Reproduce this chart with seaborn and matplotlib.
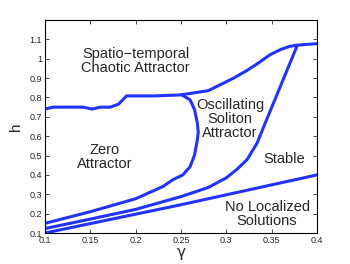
import matplotlib
matplotlib.use("Agg")
import matplotlib.pyplot as plt
import seaborn as sns
import pandas as pd

# Upper boundary (chaotic attractor)
upper_g = [0.100, 0.109, 0.142, 0.152, 0.161, 0.172, 0.181, 0.190, 0.220, 0.249, 0.280, 0.293, 0.308, 0.323, 0.336, 0.348, 0.360, 0.370, 0.378, 0.400]
upper_h = [0.740, 0.750, 0.750, 0.740, 0.750, 0.750, 0.765, 0.808, 0.808, 0.813, 0.835, 0.865, 0.900, 0.940, 0.980, 1.020, 1.048, 1.064, 1.070, 1.078]

# Oscillating soliton / zero attractor boundary
bulge_g = [0.251, 0.260, 0.265, 0.268, 0.269, 0.268, 0.265, 0.260, 0.252, 0.241, 0.230, 0.200, 0.150, 0.100]
bulge_h = [0.813, 0.788, 0.736, 0.669, 0.620, 0.581, 0.504, 0.442, 0.400, 0.375, 0.340, 0.277, 0.210, 0.150]

# Stable boundary
mid_g = [0.100, 0.150, 0.200, 0.250, 0.280, 0.300, 0.312, 0.323, 0.334, 0.340, 0.378]
mid_h = [0.123, 0.172, 0.222, 0.288, 0.335, 0.385, 0.430, 0.480, 0.565, 0.635, 1.066]

# No localized solutions boundary
low_g = [0.100, 0.250, 0.400]
low_h = [0.100, 0.246, 0.400]

labels = [
    ("Spatio\u2212temporal\nChaotic Attractor", 0.200, 0.990),
    ("Oscillating\nSoliton\nAttractor", 0.304, 0.688),
    ("Zero\nAttractor", 0.166, 0.490),
    ("Stable", 0.364, 0.483),
    ("No Localized\nSolutions", 0.345, 0.197),
]

xticks = [0.1, 0.15, 0.2, 0.25, 0.3, 0.35, 0.4]
xtick_labels = ["0.1", "0.15", "0.2", "0.25", "0.3", "0.35", "0.4"]
yticks = [0.1, 0.2, 0.3, 0.4, 0.5, 0.6, 0.7, 0.8, 0.9, 1.0, 1.1]
ytick_labels = ["0.1", "0.2", "0.3", "0.4", "0.5", "0.6", "0.7", "0.8", "0.9", "1", "1.1"]

sns.set_style("white")
plt.rcParams['font.family'] = ['Liberation Sans', 'DejaVu Sans']

fig = plt.figure(figsize=(3.5, 2.64), dpi=100)
ax = fig.add_axes([0.1286, 0.1174, 0.7771, 0.8068])

color = "#2233ff"
for g, h in [(upper_g, upper_h), (bulge_g, bulge_h), (mid_g, mid_h), (low_g, low_h)]:
    df = pd.DataFrame({"g": g, "h": h})
    sns.lineplot(data=df, x="g", y="h", sort=False, estimator=None,
                 color=color, linewidth=2.2, ax=ax)

for txt, x, y in labels:
    ax.text(x, y, txt, ha="center", va="center", fontsize=10.5, linespacing=1.0)

ax.set_xlim(0.1, 0.4)
ax.set_ylim(0.1, 1.2)
ax.set_xticks(xticks)
ax.set_xticklabels(xtick_labels)
ax.set_yticks(yticks)
ax.set_yticklabels(ytick_labels)
ax.tick_params(direction="in", length=3, width=0.6, labelsize=6.5,
               top=True, right=True, bottom=True, left=True, pad=2)
for s in ax.spines.values():
    s.set_linewidth(0.8)
    s.set_color("black")
ax.set_xlabel("\u03b3", fontsize=11, labelpad=0, family=['DejaVu Sans'])
ax.set_ylabel("h", fontsize=11, labelpad=5)

fig.savefig("out.png", dpi=100)
